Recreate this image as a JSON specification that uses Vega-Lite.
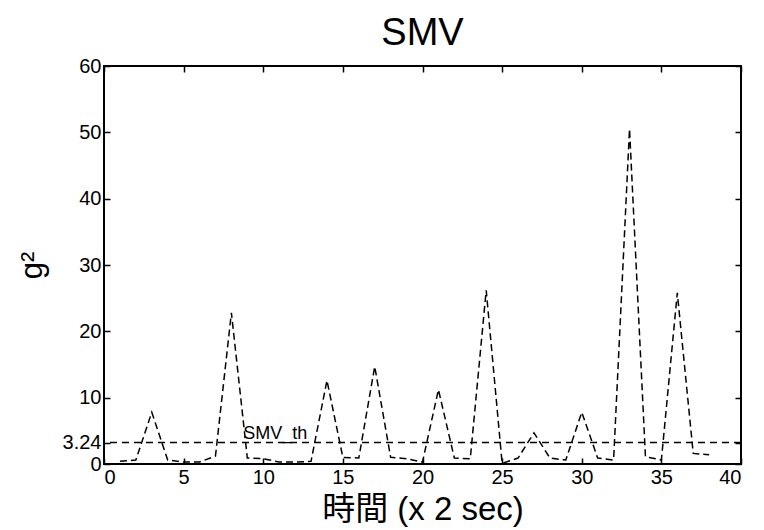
{
  "$schema": "https://vega.github.io/schema/vega-lite/v6.json",
  "width": 637,
  "height": 398,
  "autosize": {"type": "none"},
  "padding": {"left": 104, "top": 66, "right": 23, "bottom": 66},
  "background": "white",
  "title": {"text": "SMV", "fontSize": 38, "font": "Liberation Sans", "fontWeight": "normal", "color": "black", "offset": 3},
  "config": {
    "view": {"stroke": "black", "strokeWidth": 2},
    "axis": {"domain": false, "grid": false, "tickColor": "black", "tickSize": -6, "tickWidth": 1.5, "labelFont": "Liberation Sans", "labelFontSize": 20, "labelColor": "black", "titleFont": "Liberation Sans", "titleFontWeight": "normal", "titleColor": "black"}
  },
  "datasets": {
    "smv": [
      {"t": 1, "v": 0.4}, {"t": 2, "v": 0.6}, {"t": 3, "v": 7.8}, {"t": 4, "v": 0.6},
      {"t": 5, "v": 0.3}, {"t": 6, "v": 0.3}, {"t": 7, "v": 1.2}, {"t": 8, "v": 22.8},
      {"t": 9, "v": 0.9}, {"t": 10, "v": 0.8}, {"t": 11, "v": 0.3}, {"t": 12, "v": 0.3},
      {"t": 13, "v": 0.4}, {"t": 14, "v": 12.6}, {"t": 15, "v": 1.0}, {"t": 16, "v": 0.9},
      {"t": 17, "v": 14.7}, {"t": 18, "v": 1.0}, {"t": 19, "v": 0.8}, {"t": 20, "v": 0.3},
      {"t": 21, "v": 11.2}, {"t": 22, "v": 0.9}, {"t": 23, "v": 0.8}, {"t": 24, "v": 26.2},
      {"t": 25, "v": 0.1}, {"t": 26, "v": 0.9}, {"t": 27, "v": 4.7}, {"t": 28, "v": 0.9},
      {"t": 29, "v": 0.6}, {"t": 30, "v": 7.8}, {"t": 31, "v": 0.9}, {"t": 32, "v": 0.6},
      {"t": 33, "v": 50.5}, {"t": 34, "v": 1.1}, {"t": 35, "v": 0.6}, {"t": 36, "v": 25.8},
      {"t": 37, "v": 1.6}, {"t": 38, "v": 1.4}
    ],
    "th": [{"t": 8.75, "v": 3.7, "label": "SMV_th", "thr": 3.24}]
  },
  "layer": [
    {
      "data": {"name": "smv"},
      "mark": {"type": "line", "color": "black", "strokeWidth": 1.5, "strokeDash": [7, 4], "clip": true},
      "encoding": {
        "x": {"field": "t", "type": "quantitative", "scale": {"domain": [0, 40], "nice": false}, "axis": {"values": [0, 5, 10, 15, 20, 25, 30, 35, 40], "title": "時間 (x 2 sec)", "titleFontSize": 33, "titleFont": "Liberation Sans, Noto Sans CJK JP", "labelPadding": 9, "titlePadding": 6}},
        "y": {"field": "v", "type": "quantitative", "scale": {"domain": [0, 60], "nice": false}, "axis": {"values": [0, 3.24, 10, 20, 30, 40, 50, 60], "labelExpr": "'' + datum.value", "title": "g²", "titleFontSize": 31, "labelPadding": 9, "titlePadding": 14}}
      }
    },
    {
      "data": {"name": "th"},
      "mark": {"type": "rule", "color": "black", "strokeWidth": 1.5, "strokeDash": [7, 5]},
      "encoding": {
        "y": {"field": "thr", "type": "quantitative", "axis": {"orient": "right", "labels": false, "title": null, "values": [0, 3.24, 10, 20, 30, 40, 50, 60]}}
      }
    },
    {
      "data": {"name": "th"},
      "mark": {"type": "text", "align": "left", "baseline": "alphabetic", "font": "Liberation Sans", "fontSize": 18, "color": "black"},
      "encoding": {
        "x": {"field": "t", "type": "quantitative", "axis": {"orient": "top", "labels": false, "title": null, "values": [0, 5, 10, 15, 20, 25, 30, 35, 40]}},
        "y": {"field": "v", "type": "quantitative", "axis": null},
        "text": {"field": "label"}
      }
    }
  ],
  "resolve": {"axis": {"x": "independent", "y": "independent"}}
}
